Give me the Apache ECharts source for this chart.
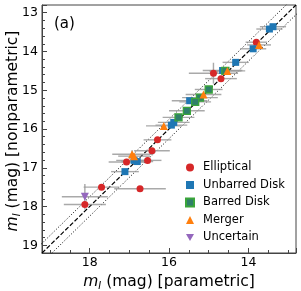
<!DOCTYPE html>
<html><head><meta charset="utf-8">
<script src="https://cdn.jsdelivr.net/npm/echarts@6/dist/echarts.min.js"></script>
<style>html,body{margin:0;padding:0;background:#fff}#c{width:301px;height:291px}</style>
</head><body><div id="c"></div>
<script>
// [parametric, nonparametric, xerr, yerr]
const elliptical = [[13.80,13.76,0.27,0],[14.88,14.56,0.62,0.27],[14.69,14.70,0.40,0],[16.29,16.28,0.35,0],[16.43,16.56,0.45,0],[16.54,16.81,0.35,0],[17.07,16.85,0.45,0],[17.70,17.50,0.45,0],[16.73,17.54,0.65,0],[18.12,17.95,0.53,0]];
const unbarred = [[13.47,13.42,0.33,0],[13.38,13.36,0.33,0],[13.88,13.93,0.33,0],[14.32,14.28,0.33,0],[14.65,14.49,0.50,0],[15.48,15.27,0.45,0],[15.88,15.83,0.40,0],[15.94,15.90,0.40,0],[16.88,16.81,0.45,0],[16.80,16.84,0.40,0],[17.11,17.10,0.35,0]];
const barred = [[14.58,14.50,0.40,0],[15.00,14.98,0.35,0],[15.22,15.19,0.45,0],[15.34,15.30,0.40,0],[15.55,15.53,0.45,0],[15.76,15.70,0.40,0]];
const merger = [[13.73,13.83,0.30,0],[14.53,14.50,0.45,0],[15.13,15.11,0.45,0],[16.13,15.92,0.45,0],[16.93,16.65,0.50,0.10],[16.88,16.70,0.40,0]];
const uncertain = [[18.12,17.75,0.58,0.33]];
const categories = ['Elliptical','Unbarred Disk','Barred Disk','Merger','Uncertain'];
const diagOffset = 0.25;
const axisMin = 12.8, axisMax = 19.2;
const xTickLabels = [14,16,18];
const yTickLabels = [13,14,15,16,17,18,19];
const xTitle = '{i|m}{s|I}{n| (mag) [parametric]}';
const yTitle = '{i|m}{s|I}{n| (mag) [nonparametric]}';

const FONT = 'DejaVu Sans';
const colors = {Elliptical:'#d62728','Unbarred Disk':'#1f77b4','Barred Disk':'#2f7f6a',Merger:'#ff7f0e',Uncertain:'#9467bd'};
const groups = [elliptical, unbarred, barred, merger, uncertain];
const allPts = [].concat(...groups);

const nameRich = {
  i:{fontStyle:'italic',fontSize:15.5,fontFamily:FONT,color:'#000'},
  s:{fontStyle:'italic',fontSize:10,fontFamily:FONT,color:'#000',verticalAlign:'bottom',padding:[9,0,0,0]},
  n:{fontSize:15.5,fontFamily:FONT,color:'#000'}
};

function mkAxis(isX, labels){
  return {
    type:'value',min:axisMin,max:axisMax,inverse:true,splitLine:{show:false},
    splitNumber: isX?3:6,
    axisLine:{show:true,onZero:false,lineStyle:{color:'#444'}},
    axisTick:{show:true,inside:true,length:5,lineStyle:{color:'#444'}},
    minorTick:{show:true,splitNumber:isX?4:5,length:3,lineStyle:{color:'#444'}},
    axisLabel:{fontSize:12.5,fontFamily:FONT,color:'#000',margin:isX?3:4,
      formatter:function(v){ return labels.indexOf(Math.round(v*100)/100)>=0 ? String(Math.round(v)) : ''; }},
    name: isX? xTitle : '',
    nameLocation:'middle',
    nameGap: 14,
    nameTextStyle:{rich:nameRich}
  };
}

const series = [];
series.push({
  type:'line', data:[[axisMax,axisMax],[axisMin,axisMin]], symbol:'none', silent:true,
  lineStyle:{color:'#000',width:1.2,type:[4.5,2]}, z:1, clip:true
});
[diagOffset,-diagOffset].forEach(o=>{
  series.push({
    type:'line', data:[[axisMax+1,axisMax+1+o],[axisMin-1,axisMin-1+o]], symbol:'none', silent:true,
    lineStyle:{color:'#000',width:1,type:[1,2]}, z:1, clip:true
  });
});
series.push({
  type:'custom', data:allPts, clip:true, z:2, silent:true,
  encode:{x:0,y:1},
  renderItem:function(params, api){
    const x=api.value(0), y=api.value(1), xe=api.value(2), ye=api.value(3);
    const l=api.coord([x-xe,y]), r=api.coord([x+xe,y]);
    const ch=[{type:'line',shape:{x1:l[0],y1:l[1],x2:r[0],y2:r[1]},style:{stroke:'#9a9a9a',lineWidth:1.4,opacity:0.85}}];
    if (ye>0){
      const t=api.coord([x,y-ye]), b=api.coord([x,y+ye]);
      ch.push({type:'line',shape:{x1:t[0],y1:t[1],x2:b[0],y2:b[1]},style:{stroke:'#9a9a9a',lineWidth:1.4,opacity:0.85}});
    }
    return {type:'group',children:ch};
  }
});
const symbols = ['circle','rect','rect','triangle','triangle'];
const sizes = [7,7,7,8,8];
categories.forEach((c,i)=>{
  series.push({
    name:c, type:'scatter', data:groups[i].map(p=>[p[0],p[1]]),
    symbol:symbols[i], symbolSize:sizes[i], symbolRotate: i===4?180:0, z:3,
    itemStyle: i===2 ? {color:colors[c],borderColor:'#3aa53a',borderWidth:1.3,opacity:1} : {color:colors[c],opacity:1}
  });
});

const chart = echarts.init(document.getElementById('c'), null, {renderer:'canvas'});
chart.setOption({
  animation:false,
  backgroundColor:'#fff',
  textStyle:{fontFamily:FONT},
  grid:{left:42,top:5,right:5,bottom:38,show:true,borderColor:'#444',borderWidth:1,outerBoundsMode:'none'},
  xAxis: mkAxis(true, xTickLabels),
  yAxis: mkAxis(false, yTickLabels),
  title:{text:'(a)',left:54,top:17,padding:0,textStyle:{fontSize:15,fontWeight:'normal',fontFamily:FONT,color:'#000'}},
  graphic:[{
    type:'text', x:12.5, y:131, rotation:Math.PI/2, z:10,
    style:{text:yTitle, rich:nameRich, align:'center', verticalAlign:'middle', font:'15.5px "DejaVu Sans"', fill:'#000'}
  }],
  legend:{
    data: categories.map((c,i)=>({name:c, icon: i===4?'path://M0,0 L10,0 L5,9 Z':(i===0?'circle':(i===3?'triangle':'rect'))})),
    orient:'vertical', left:185, top:161.5, padding:0, itemWidth:8, itemHeight:8, itemGap:5.5,
    textStyle:{fontSize:11.5,fontFamily:FONT,color:'#000',padding:[0,0,0,4]},
    selectedMode:false
  },
  series: series
});
</script></body></html>
